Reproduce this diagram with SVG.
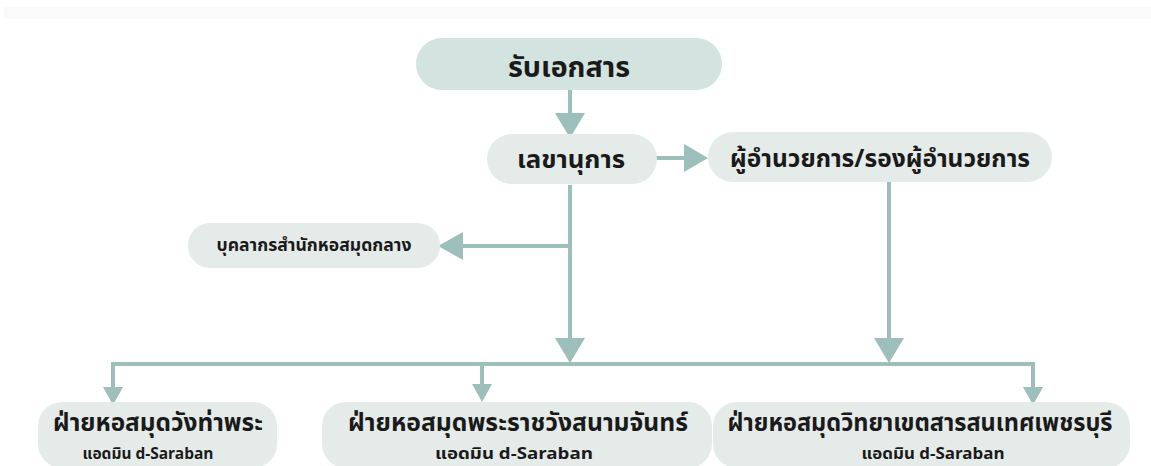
<svg xmlns="http://www.w3.org/2000/svg" width="1151" height="466" viewBox="0 0 1151 466">
<defs>
<style>
.node{fill:#e5ebe9}
.top{fill:#d3e3e0}
.t{font-family:"Noto Sans Thai","Noto Sans","DejaVu Sans",sans-serif;font-weight:bold;fill:#1a1a1a;text-anchor:middle}
.conn{stroke:#9cbfbc;stroke-width:4;fill:none}
.ah{fill:#9cbfbc}
</style>
</defs>
<rect width="1151" height="466" fill="#ffffff"/>
<rect x="4" y="7" width="1147" height="12" fill="#fafafa"/>
<g id="connectors">
<line class="conn" x1="570" y1="90" x2="570" y2="115"/>
<polygon class="ah" points="555,113 585,113 570,138"/>
<line class="conn" x1="656" y1="158" x2="686" y2="158"/>
<polygon class="ah" points="684,144 684,172 708,158"/>
<line class="conn" x1="570" y1="185" x2="570" y2="340"/>
<line class="conn" x1="570" y1="246" x2="460" y2="246"/>
<polygon class="ah" points="463,232 463,260 438,246"/>
<polygon class="ah" points="555,338 585,338 570,363"/>
<line class="conn" x1="889" y1="182" x2="889" y2="340"/>
<polygon class="ah" points="874,338 904,338 889,363"/>
<polyline class="conn" points="113,390 113,364 1033,364 1033,390"/>
<line class="conn" x1="482" y1="364" x2="482" y2="387"/>
<polygon class="ah" points="103,387 123,387 113,405"/>
<polygon class="ah" points="472,384 492,384 482,402"/>
<polygon class="ah" points="1023,387 1043,387 1033,405"/>
</g>
<g id="n1"><rect class="top" x="416" y="38" width="306" height="52" rx="26"/><text class="t" x="569" y="77" font-size="29" textLength="122" lengthAdjust="spacingAndGlyphs">รับเอกสาร</text></g>
<g id="n2"><rect class="node" x="487" y="134" width="170" height="50" rx="25"/><text class="t" x="571" y="168" font-size="25" textLength="108" lengthAdjust="spacingAndGlyphs">เลขานุการ</text></g>
<g id="n3"><rect class="node" x="708" y="132" width="344" height="50" rx="25"/><text class="t" x="880" y="167" font-size="25" textLength="300" lengthAdjust="spacingAndGlyphs">ผู้อำนวยการ/รองผู้อำนวยการ</text></g>
<g id="n4"><rect class="node" x="188" y="223" width="252" height="45" rx="22"/><text class="t" x="314" y="251" font-size="17.5" textLength="195" lengthAdjust="spacingAndGlyphs">บุคลากรสำนักหอสมุดกลาง</text></g>
<g id="n5"><rect class="node" x="38" y="402" width="239" height="66" rx="24"/><text class="t" x="158" y="431" font-size="24.5" textLength="210" lengthAdjust="spacingAndGlyphs">ฝ่ายหอสมุดวังท่าพระ</text><text class="t" x="148" y="459" font-size="15.5" textLength="131" lengthAdjust="spacingAndGlyphs">แอดมิน d-Saraban</text></g>
<g id="n6"><rect class="node" x="322" y="402" width="390" height="66" rx="24"/><text class="t" x="518" y="431" font-size="24.5" textLength="340" lengthAdjust="spacingAndGlyphs">ฝ่ายหอสมุดพระราชวังสนามจันทร์</text><text class="t" x="514" y="459" font-size="15.5" textLength="158" lengthAdjust="spacingAndGlyphs">แอดมิน d-Saraban</text></g>
<g id="n7"><rect class="node" x="713" y="402" width="417" height="66" rx="24"/><text class="t" x="920" y="431" font-size="24.5" textLength="385" lengthAdjust="spacingAndGlyphs">ฝ่ายหอสมุดวิทยาเขตสารสนเทศเพชรบุรี</text><text class="t" x="933" y="459" font-size="15.5" textLength="143" lengthAdjust="spacingAndGlyphs">แอดมิน d-Saraban</text></g>
</svg>
